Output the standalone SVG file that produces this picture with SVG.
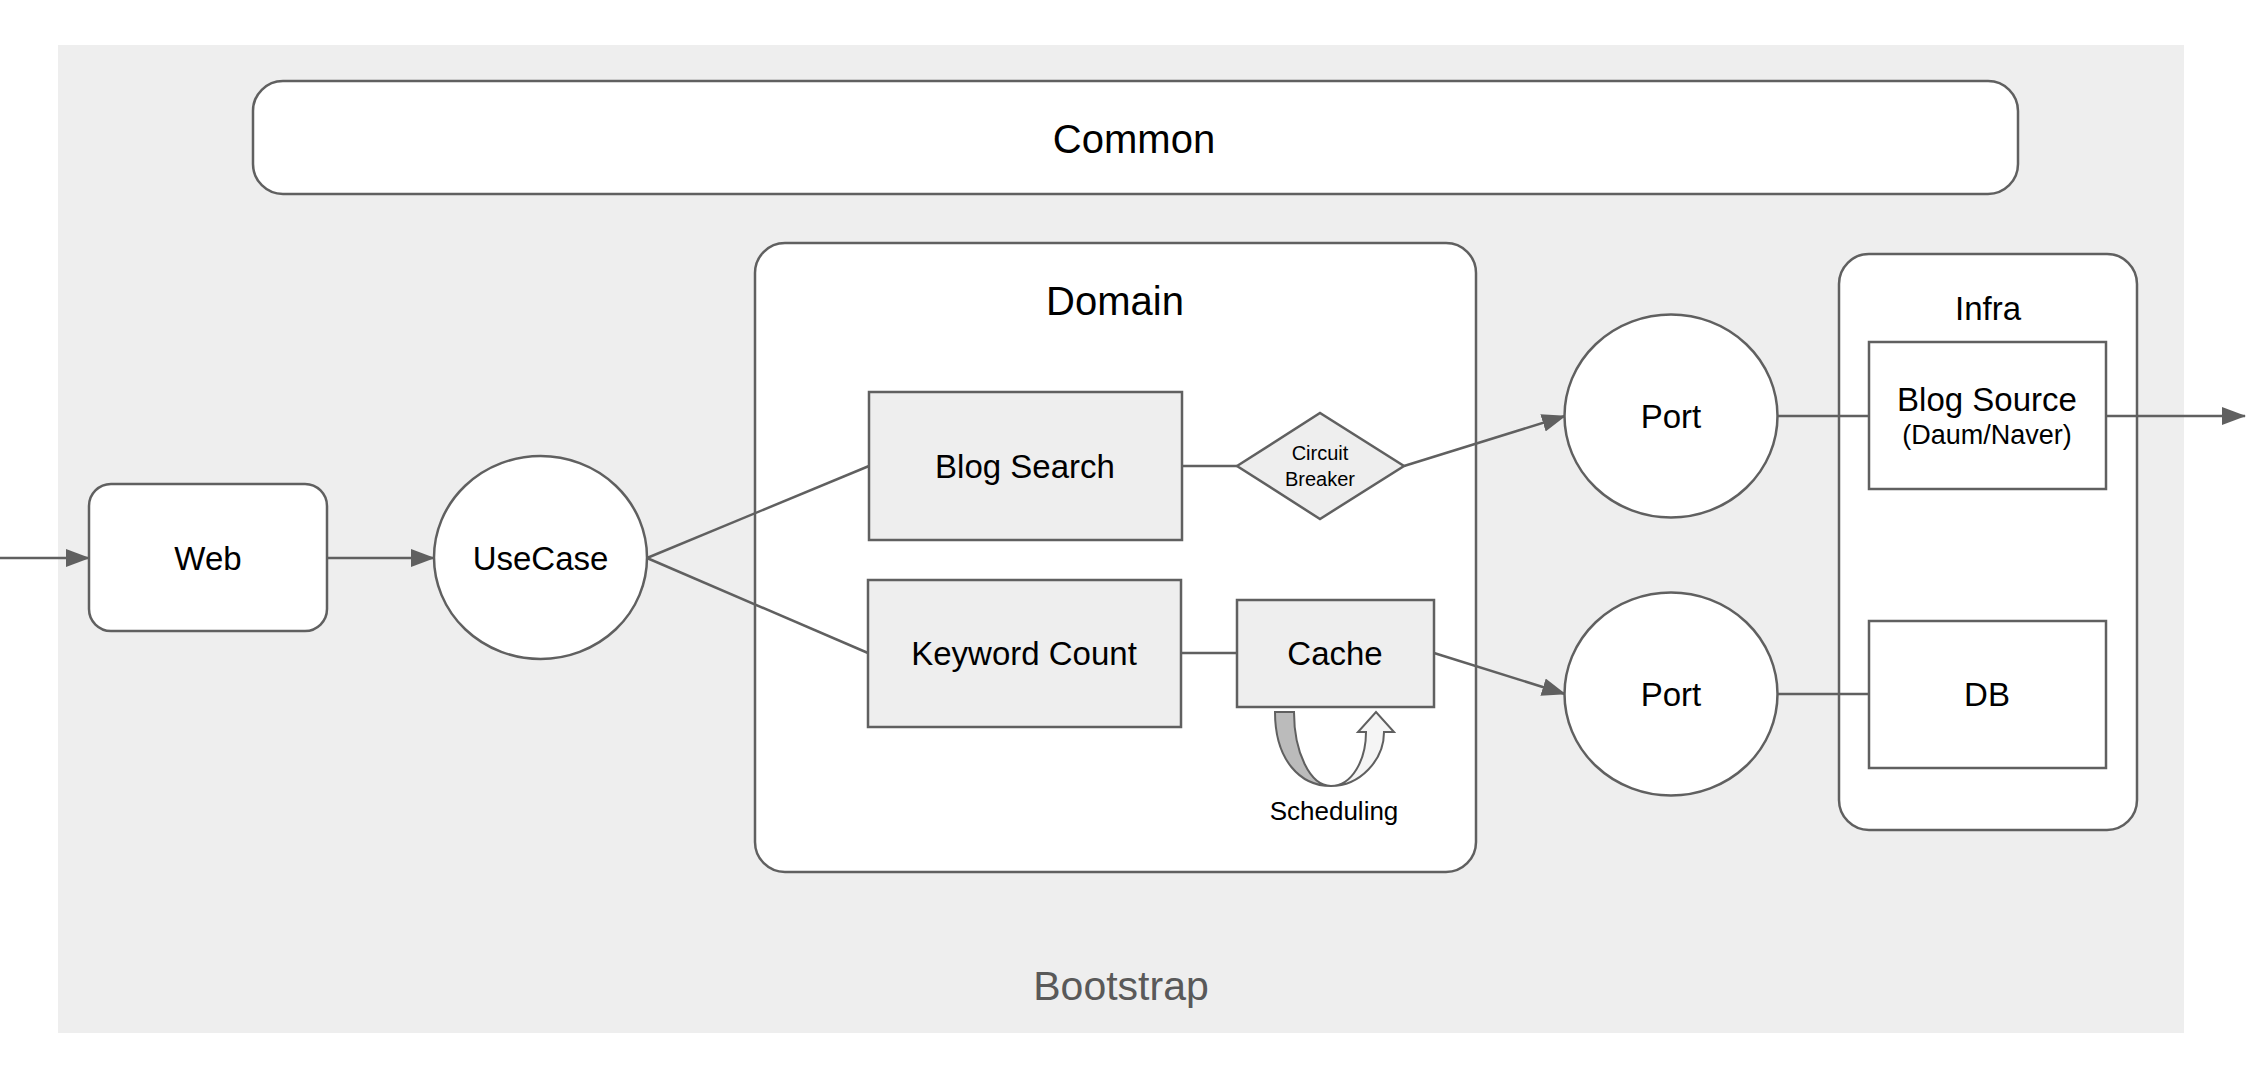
<svg xmlns="http://www.w3.org/2000/svg" width="2246" height="1086" viewBox="0 0 2246 1086">
<style>
  .box { stroke: #606060; stroke-width: 2.5; }
  .w { fill: #ffffff; }
  .g { fill: #eeeeee; }
  .t { font-family: "Liberation Sans", Arial, sans-serif; fill: #000000; text-anchor: middle; }
  .big { font-size: 40px; }
  .mid { font-size: 33px; }
  .edge { stroke: #606060; stroke-width: 2.5; fill: none; }
</style>
<defs>
  <marker id="arr" viewBox="0 0 24 18" refX="23" refY="9" markerWidth="24" markerHeight="18" markerUnits="userSpaceOnUse" orient="auto">
    <path d="M0,0 L24,9 L0,18 Z" fill="#606060"/>
  </marker>
</defs>
<rect width="2246" height="1086" fill="#ffffff"/>

<g id="bootstrap">
  <rect x="58" y="45" width="2126" height="988" fill="#eeeeee"/>
  <text class="t" x="1121" y="1000" font-size="41" style="fill:#595959">Bootstrap</text>
</g>

<g id="common">
  <rect class="box w" x="253" y="81" width="1765" height="113" rx="30" ry="30"/>
  <text class="t big" x="1134" y="153">Common</text>
</g>

<g id="domain">
  <rect class="box w" x="755" y="243" width="721" height="629" rx="30" ry="30"/>
  <text class="t big" x="1115" y="315">Domain</text>
</g>

<g id="infra">
  <rect class="box w" x="1839" y="254" width="298" height="576" rx="30" ry="30"/>
  <text class="t mid" x="1988" y="320">Infra</text>
</g>

<g id="connectors">
  <line class="edge" x1="0" y1="558" x2="89" y2="558" marker-end="url(#arr)"/>
  <line class="edge" x1="327" y1="558" x2="434" y2="558" marker-end="url(#arr)"/>
  <line class="edge" x1="647" y1="558" x2="869" y2="466"/>
  <line class="edge" x1="647" y1="558" x2="868" y2="653"/>
  <line class="edge" x1="1182" y1="466" x2="1237" y2="466"/>
  <line class="edge" x1="1404" y1="466" x2="1565" y2="416" marker-end="url(#arr)"/>
  <line class="edge" x1="1181" y1="653" x2="1237" y2="653"/>
  <line class="edge" x1="1434" y1="653" x2="1565" y2="694" marker-end="url(#arr)"/>
  <line class="edge" x1="1778" y1="416" x2="1869" y2="416"/>
  <line class="edge" x1="1778" y1="694" x2="1869" y2="694"/>
  <line class="edge" x1="2106" y1="416" x2="2245" y2="416" marker-end="url(#arr)"/>
</g>

<g id="web">
  <rect class="box w" x="89" y="484" width="238" height="147" rx="22" ry="22"/>
  <text class="t mid" x="208" y="570">Web</text>
</g>

<g id="usecase">
  <ellipse class="box w" cx="540.5" cy="557.5" rx="106.5" ry="101.5"/>
  <text class="t mid" x="540.5" y="570">UseCase</text>
</g>

<g id="blog-search">
  <rect class="box g" x="869" y="392" width="313" height="148"/>
  <text class="t mid" x="1025" y="478">Blog Search</text>
</g>

<g id="keyword-count">
  <rect class="box g" x="868" y="580" width="313" height="147"/>
  <text class="t mid" x="1024" y="665">Keyword Count</text>
</g>

<g id="circuit-breaker">
  <path class="box g" d="M1237,466 L1320,413 L1404,466 L1320,519 Z"/>
  <text class="t" x="1320" y="460" font-size="20">Circuit</text>
  <text class="t" x="1320" y="486" font-size="20">Breaker</text>
</g>

<g id="cache">
  <rect class="box g" x="1237" y="600" width="197" height="107"/>
  <text class="t mid" x="1335" y="665">Cache</text>
</g>

<g id="scheduling">
  <path d="M1275,712 L1294,712 C1294,752 1310,786 1331,786 C1300,786 1275,760 1275,712 Z" fill="#bbbbbb" stroke="#606060" stroke-width="2"/>
  <path d="M1331,786 C1360,786 1384,760 1384,732 L1394,732 L1376,712 L1358,732 L1366,732 C1366,760 1352,786 1331,786 Z" fill="#f5f5f5" stroke="#606060" stroke-width="2"/>
  <text class="t" x="1334" y="820" font-size="26">Scheduling</text>
</g>

<g id="port-1">
  <ellipse class="box w" cx="1671" cy="416" rx="106.5" ry="101.5"/>
  <text class="t mid" x="1671" y="428">Port</text>
</g>

<g id="port-2">
  <ellipse class="box w" cx="1671" cy="694" rx="106.5" ry="101.5"/>
  <text class="t mid" x="1671" y="706">Port</text>
</g>

<g id="blog-source">
  <rect class="box w" x="1869" y="342" width="237" height="147"/>
  <text class="t mid" x="1987" y="411">Blog Source</text>
  <text class="t" x="1987" y="444" font-size="27">(Daum/Naver)</text>
</g>

<g id="db">
  <rect class="box w" x="1869" y="621" width="237" height="147"/>
  <text class="t mid" x="1987" y="706">DB</text>
</g>
</svg>
